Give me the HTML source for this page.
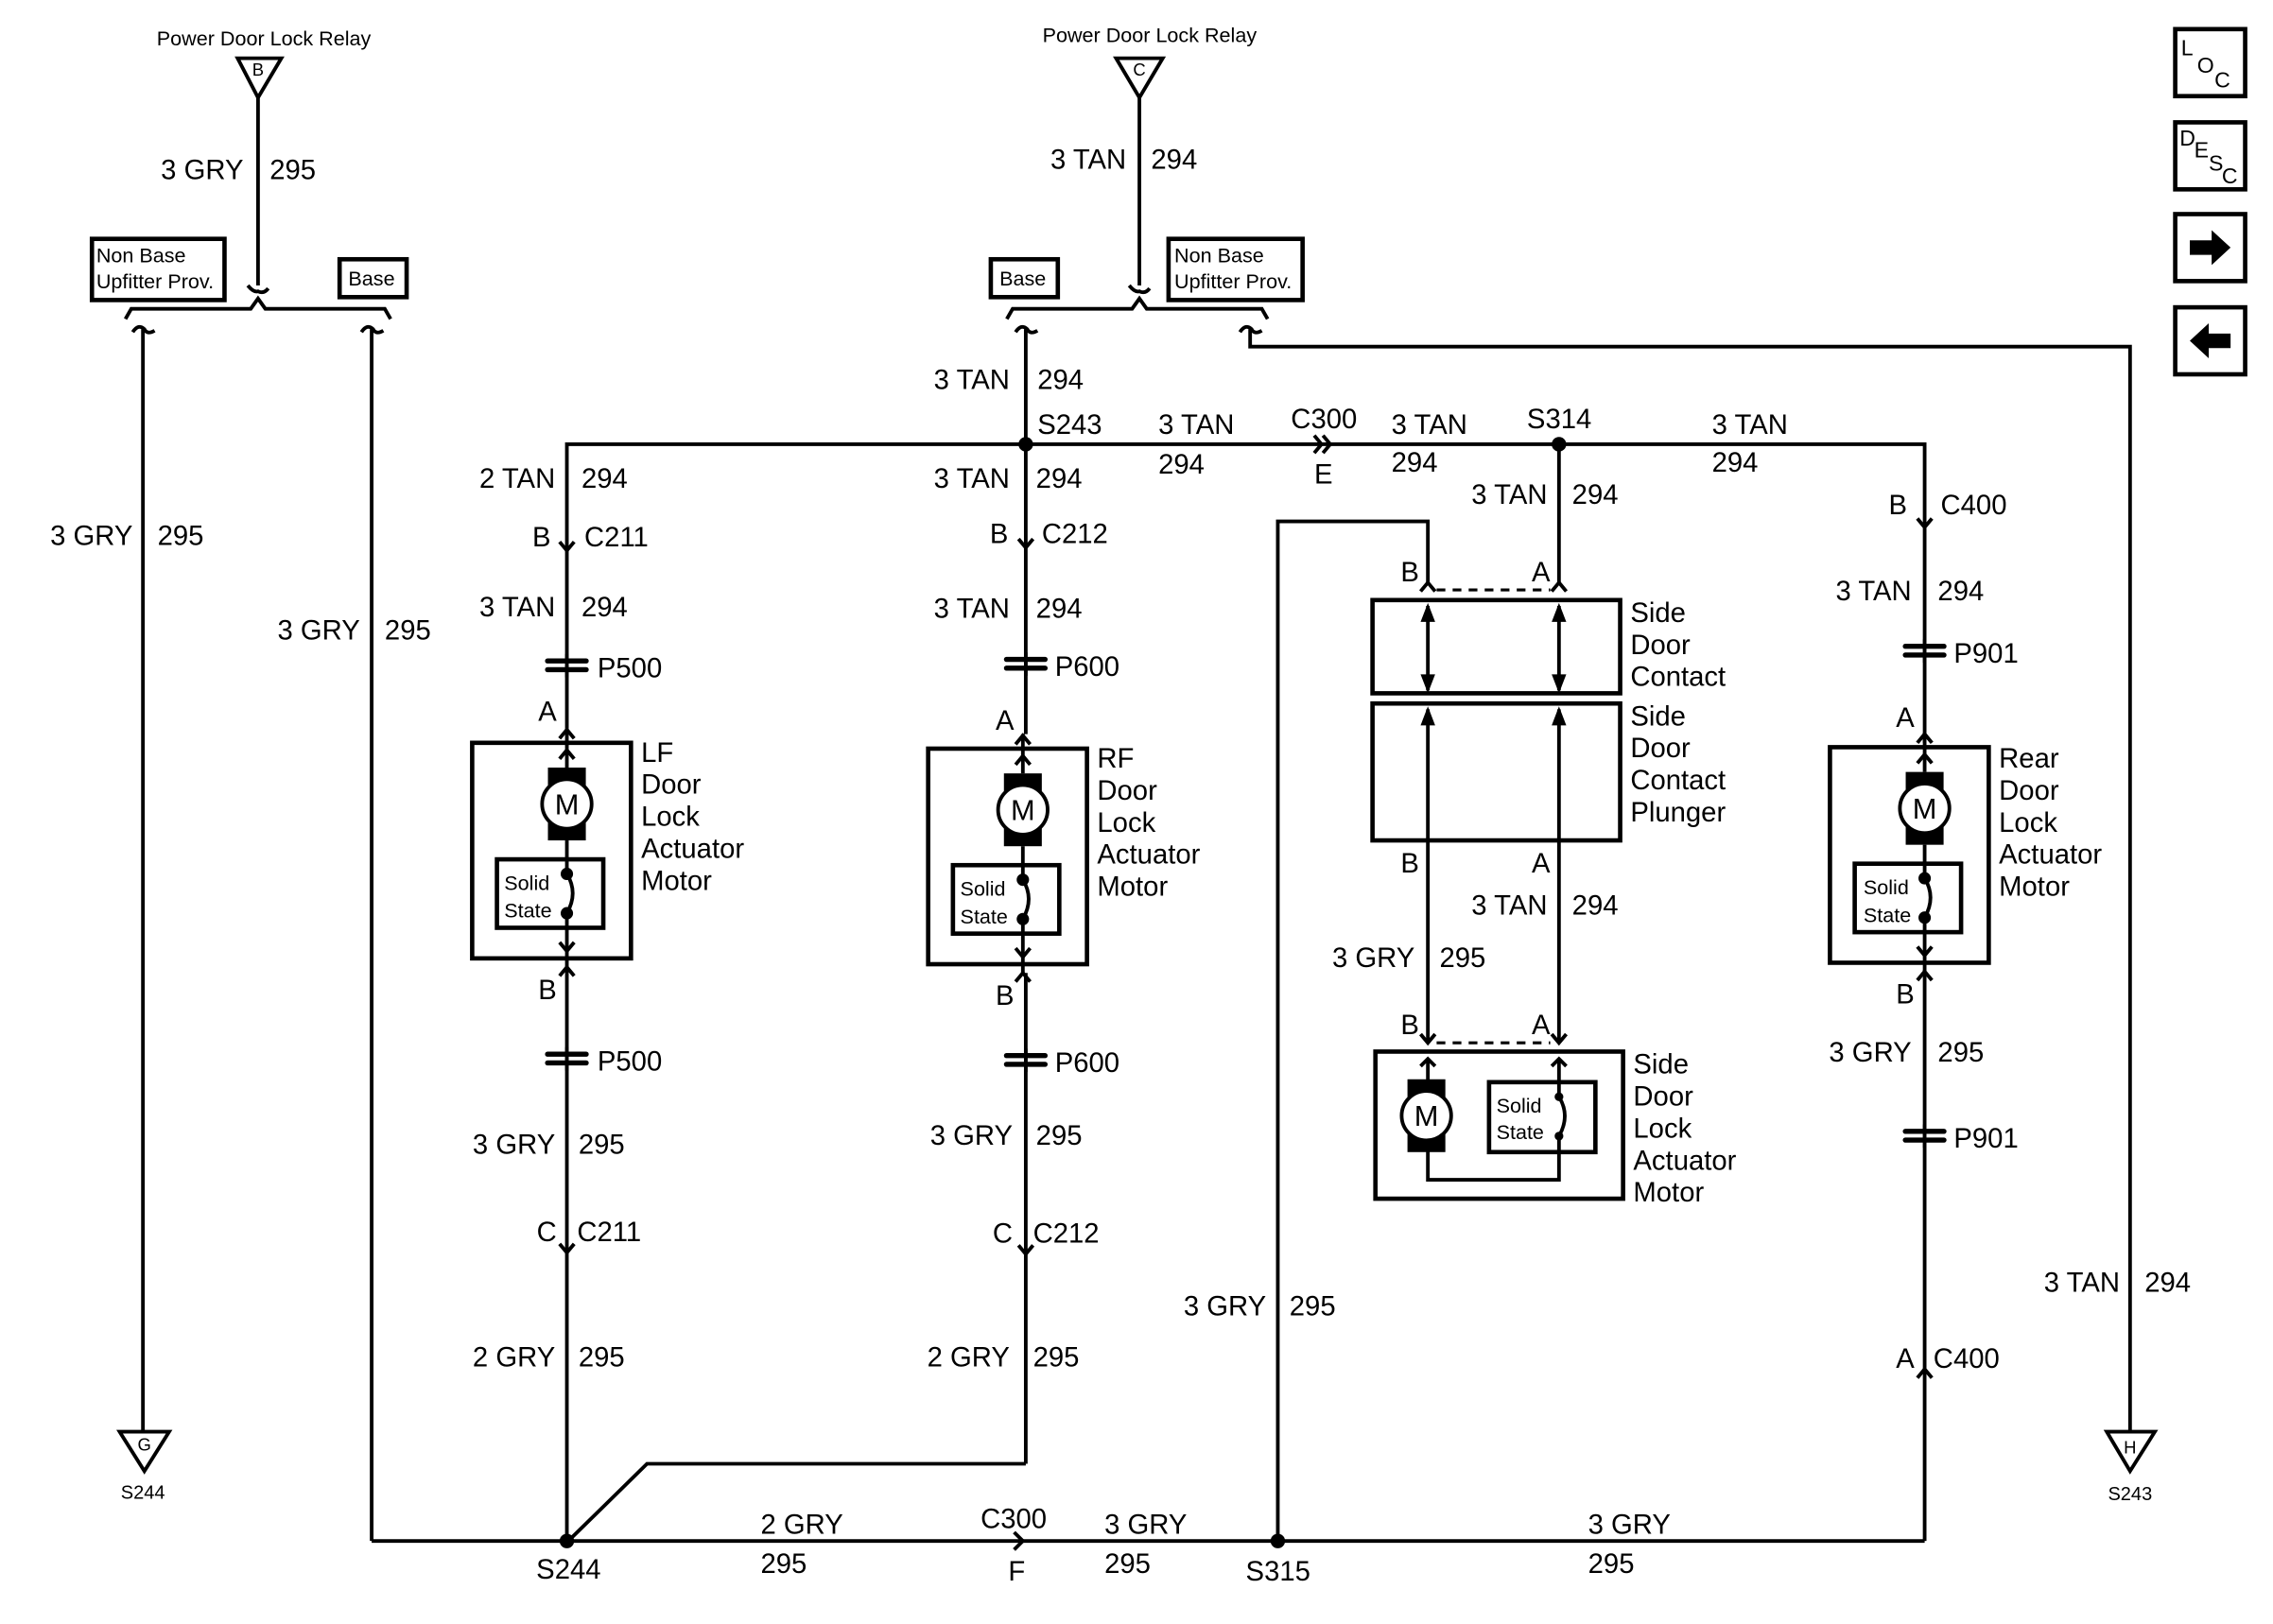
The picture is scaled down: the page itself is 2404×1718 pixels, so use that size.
<!DOCTYPE html>
<html><head><meta charset="utf-8"><style>
html,body{margin:0;padding:0;background:#fff;}
svg{display:block;}
text{font-family:"Liberation Sans",sans-serif;fill:#000;}
</style></head><body>
<svg width="2404" height="1718" viewBox="0 0 1560 1115" xmlns="http://www.w3.org/2000/svg">
<defs>
<g id="motor" fill="none" stroke="#000" stroke-width="2.5">
<rect x="-65" y="-42" width="109" height="148" stroke-width="3"/>
<line x1="0" y1="-52" x2="0" y2="-25"/>
<path d="M-5,-45 L0,-51 L5,-45"/>
<path d="M-5,-31 L0,-37 L5,-31"/>
<rect x="-13" y="-25" width="26" height="50" fill="#000" stroke="none"/>
<circle cx="0" cy="0" r="17" fill="#fff"/>
<rect x="-48" y="38" width="73" height="47" stroke-width="3"/>
<line x1="0" y1="25" x2="0" y2="48"/>
<path d="M0,48 Q8,61 0,75"/>
<line x1="0" y1="75" x2="0" y2="112"/>
<circle cx="0" cy="48" r="3" fill="#000"/>
<circle cx="0" cy="75" r="3" fill="#000"/>
<path d="M-5,95 L0,101 L5,95"/>
<path d="M-5,118 L0,112 L5,118"/>
</g>
<g id="pc" fill="#000"><rect x="-15" y="-5" width="30" height="3.5" rx="1.7"/><rect x="-15" y="1" width="30" height="3.5" rx="1.7"/><rect x="-1.2" y="-8" width="2.4" height="16"/></g>
</defs>
<g fill="none" stroke="#000" stroke-width="2.5">
<path d="M163,40 L193,40 L177,67 Z"/>
<line x1="177" y1="67" x2="177" y2="196"/>
<path d="M170,196 Q174,201 177,200 Q181,202 184,198"/>
<path d="M86,219 L90,212 L172,212 L177,205 L182,212 L264,212 L268,219"/>
<path d="M91,228 Q95,222 99,226 Q101,230 106,227"/>
<path d="M248,228 Q252,222 256,226 Q258,230 263,227"/>
<line x1="98" y1="226" x2="98" y2="983"/>
<line x1="255" y1="226" x2="255" y2="1058"/>
<path d="M82,983 L116,983 L99,1010 Z"/>
<rect x="63" y="164" width="91" height="42" stroke-width="3"/>
<rect x="233" y="178" width="46" height="26" stroke-width="3"/>
<path d="M766,40 L798,40 L782,67 Z"/>
<line x1="782" y1="67" x2="782" y2="196"/>
<path d="M775,196 Q779,201 782,200 Q786,202 789,198"/>
<path d="M691,219 L695,212 L777,212 L782,205 L787,212 L866,212 L870,219"/>
<path d="M697,228 Q701,222 705,226 Q707,230 712,227"/>
<path d="M851,228 Q855,222 859,226 Q861,230 866,227"/>
<rect x="680" y="178" width="46" height="26" stroke-width="3"/>
<rect x="802" y="164" width="92" height="42" stroke-width="3"/>
<line x1="704" y1="226" x2="704" y2="305"/>
<path d="M858,226 L858,238 L1462,238 L1462,983"/>
<path d="M1446,983 L1479,983 L1462,1010 Z"/>
<path d="M389,500 L389,305 L1321,305 L1321,510"/>
<path d="M902,299 L907,305 L902,311 M908,299 L913,305 L908,311"/>
<line x1="1070" y1="305" x2="1070" y2="400"/>
<path d="M384,372 L389,378 L394,372"/>
<path d="M384,854 L389,860 L394,854"/>
<line x1="389" y1="664" x2="389" y2="1058"/>
<line x1="704" y1="305" x2="704" y2="504"/>
<path d="M699,370 L704,376 L709,370"/>
<line x1="704" y1="668" x2="704" y2="1005"/>
<path d="M699,855 L704,861 L709,855"/>
<path d="M704,1005 L444,1005 L390,1058"/>
<line x1="255" y1="1058" x2="1321" y2="1058"/>
<path d="M696,1052 L702,1058 L696,1064"/>
<path d="M877,1058 L877,358 L980,358 L980,400"/>
<path d="M1316,356 L1321,362 L1326,356"/>
<line x1="1321" y1="666" x2="1321" y2="1058"/>
<path d="M1316,946 L1321,940 L1326,946"/>
<path d="M975,406 L980,400 L985,406 M1065,406 L1070,400 L1075,406"/>
<line x1="986" y1="405" x2="1064" y2="405" stroke-dasharray="6,5" stroke-width="2"/>
<rect x="942" y="412" width="170" height="64" stroke-width="3"/>
<rect x="942" y="483" width="170" height="94" stroke-width="3"/>
<line x1="980" y1="416" x2="980" y2="474"/><line x1="1070" y1="416" x2="1070" y2="474"/>
<line x1="980" y1="487" x2="980" y2="716"/><line x1="1070" y1="487" x2="1070" y2="716"/>
<path d="M975,710 L980,716 L985,710 M1065,710 L1070,716 L1075,710"/>
<line x1="986" y1="716" x2="1064" y2="716" stroke-dasharray="6,5" stroke-width="2"/>
<rect x="944" y="722" width="170" height="101" stroke-width="3"/>
<path d="M980,727 L980,747 M975,732 L980,727 L985,732"/>
<path d="M1070,727 L1070,753 M1065,732 L1070,727 L1075,732"/>
<rect x="1022" y="743" width="73" height="48" stroke-width="3"/>
<path d="M1070,753 Q1078,766 1070,780"/>
<path d="M980,785 L980,810 L1070,810 L1070,780"/>
<rect x="1493" y="20" width="48" height="46" stroke-width="3"/>
<rect x="1493" y="84" width="48" height="46" stroke-width="3"/>
<rect x="1493" y="147" width="48" height="46" stroke-width="3"/>
<rect x="1493" y="211" width="48" height="46" stroke-width="3"/>
</g>
<g fill="#000">
<path d="M975,427 L980,414 L985,427 Z M1065,427 L1070,414 L1075,427 Z"/>
<path d="M975,463 L980,476 L985,463 Z M1065,463 L1070,476 L1075,463 Z"/>
<path d="M975,498 L980,485 L985,498 Z M1065,498 L1070,485 L1075,498 Z"/>
<rect x="966" y="741" width="26" height="50"/>
<circle cx="979" cy="766" r="17" fill="#fff" stroke="#000" stroke-width="2.5"/>
<circle cx="1070" cy="753" r="3"/><circle cx="1070" cy="780" r="3"/>
<circle cx="704" cy="305" r="5"/><circle cx="1070" cy="305" r="5"/>
<circle cx="389" cy="1058" r="5"/><circle cx="877" cy="1058" r="5"/>
<path d="M1503,165 L1518,165 L1518,158 L1531,170 L1518,182 L1518,175 L1503,175 Z"/>
<path d="M1531,229 L1516,229 L1516,222 L1503,234 L1516,246 L1516,239 L1531,239 Z"/>
</g>
<use href="#motor" x="389" y="552"/>
<use href="#motor" x="702" y="556"/>
<use href="#motor" x="1321" y="555"/>
<use href="#pc" x="389" y="457"/><use href="#pc" x="389" y="727"/>
<use href="#pc" x="704" y="456"/><use href="#pc" x="704" y="728"/>
<use href="#pc" x="1321" y="447"/><use href="#pc" x="1321" y="780"/>

<g font-size="14" text-anchor="middle">
<text x="181" y="31">Power Door Lock Relay</text>
<text x="789" y="29">Power Door Lock Relay</text>
<text x="177" y="52" font-size="12">B</text>
<text x="782" y="52" font-size="12">C</text>
<text x="99" y="996" font-size="12">G</text>
<text x="1462" y="998" font-size="12">H</text>
<text x="98" y="1029" font-size="13">S244</text>
<text x="1462" y="1030" font-size="13">S243</text>
</g>
<g font-size="14">
<text x="66" y="180">Non Base</text><text x="66" y="198">Upfitter Prov.</text>
<text x="239" y="196">Base</text>
<text x="686" y="196">Base</text>
<text x="806" y="180">Non Base</text><text x="806" y="198">Upfitter Prov.</text>
<text x="346" y="611">Solid</text><text x="346" y="630">State</text>
<text x="659" y="615">Solid</text><text x="659" y="634">State</text>
<text x="1279" y="614">Solid</text><text x="1279" y="633">State</text>
<text x="1027" y="764">Solid</text><text x="1027" y="782">State</text>
</g>
<g font-size="20" text-anchor="middle">
<text x="389" y="559">M</text><text x="702" y="563">M</text><text x="1321" y="562">M</text><text x="979" y="773">M</text>
</g>
<g font-size="15">
<text x="1497" y="38">L</text><text x="1508" y="50">O</text><text x="1520" y="60">C</text>
<text x="1496" y="100">D</text><text x="1506" y="108">E</text><text x="1516" y="117">S</text><text x="1525" y="126">C</text>
</g>
<g font-size="19" text-anchor="end">
<text x="167" y="123">3 GRY</text><text x="773" y="116">3 TAN</text>
<text x="91" y="374">3 GRY</text><text x="247" y="439">3 GRY</text>
<text x="1455" y="887">3 TAN</text>
<text x="693" y="267">3 TAN</text>
<text x="381" y="335">2 TAN</text><text x="378" y="375">B</text><text x="381" y="423">3 TAN</text><text x="382" y="495">A</text>
<text x="382" y="686">B</text><text x="381" y="792">3 GRY</text><text x="382" y="852">C</text><text x="381" y="938">2 GRY</text>
<text x="693" y="335">3 TAN</text><text x="692" y="373">B</text><text x="693" y="424">3 TAN</text><text x="696" y="501">A</text>
<text x="696" y="690">B</text><text x="695" y="786">3 GRY</text><text x="695" y="853">C</text><text x="693" y="938">2 GRY</text>
<text x="1062" y="346">3 TAN</text>
<text x="974" y="399">B</text><text x="1064" y="399">A</text>
<text x="974" y="599">B</text><text x="1064" y="599">A</text>
<text x="1062" y="628">3 TAN</text><text x="971" y="664">3 GRY</text>
<text x="974" y="710">B</text><text x="1064" y="710">A</text>
<text x="869" y="903">3 GRY</text>
<text x="1309" y="353">B</text><text x="1312" y="412">3 TAN</text><text x="1314" y="499">A</text>
<text x="1314" y="689">B</text><text x="1312" y="729">3 GRY</text><text x="1314" y="939">A</text>
</g>
<g font-size="19">
<text x="185" y="123">295</text><text x="790" y="116">294</text>
<text x="108" y="374">295</text><text x="264" y="439">295</text>
<text x="1472" y="887">294</text>
<text x="712" y="267">294</text><text x="712" y="298">S243</text>
<text x="795" y="298">3 TAN</text><text x="795" y="325">294</text>
<text x="886" y="294">C300</text><text x="902" y="332">E</text>
<text x="955" y="298">3 TAN</text><text x="955" y="324">294</text>
<text x="1048" y="294">S314</text>
<text x="1175" y="298">3 TAN</text><text x="1175" y="324">294</text>
<text x="399" y="335">294</text><text x="401" y="375">C211</text><text x="399" y="423">294</text><text x="410" y="465">P500</text>
<text x="410" y="735">P500</text><text x="397" y="792">295</text><text x="396" y="852">C211</text><text x="397" y="938">295</text>
<text x="711" y="335">294</text><text x="715" y="373">C212</text><text x="711" y="424">294</text><text x="724" y="464">P600</text>
<text x="724" y="736">P600</text><text x="711" y="786">295</text><text x="709" y="853">C212</text><text x="709" y="938">295</text>
<text x="1079" y="346">294</text><text x="1079" y="628">294</text><text x="988" y="664">295</text>
<text x="885" y="903">295</text>
<text x="1332" y="353">C400</text><text x="1330" y="412">294</text><text x="1341" y="455">P901</text>
<text x="1330" y="729">295</text><text x="1341" y="788">P901</text><text x="1327" y="939">C400</text>
<text x="522" y="1053">2 GRY</text><text x="522" y="1080">295</text>
<text x="673" y="1049">C300</text><text x="692" y="1085">F</text>
<text x="758" y="1053">3 GRY</text><text x="758" y="1080">295</text>
<text x="368" y="1084">S244</text><text x="855" y="1085">S315</text>
<text x="1090" y="1053">3 GRY</text><text x="1090" y="1080">295</text>
<text x="440" y="523">LF</text><text x="440" y="545">Door</text><text x="440" y="567">Lock</text><text x="440" y="589">Actuator</text><text x="440" y="611">Motor</text>
<text x="753" y="527">RF</text><text x="753" y="549">Door</text><text x="753" y="571">Lock</text><text x="753" y="593">Actuator</text><text x="753" y="615">Motor</text>
<text x="1372" y="527">Rear</text><text x="1372" y="549">Door</text><text x="1372" y="571">Lock</text><text x="1372" y="593">Actuator</text><text x="1372" y="615">Motor</text>
<text x="1119" y="427">Side</text><text x="1119" y="449">Door</text><text x="1119" y="471">Contact</text>
<text x="1119" y="498">Side</text><text x="1119" y="520">Door</text><text x="1119" y="542">Contact</text><text x="1119" y="564">Plunger</text>
<text x="1121" y="737">Side</text><text x="1121" y="759">Door</text><text x="1121" y="781">Lock</text><text x="1121" y="803">Actuator</text><text x="1121" y="825">Motor</text>
</g>
</svg>
</body></html>
